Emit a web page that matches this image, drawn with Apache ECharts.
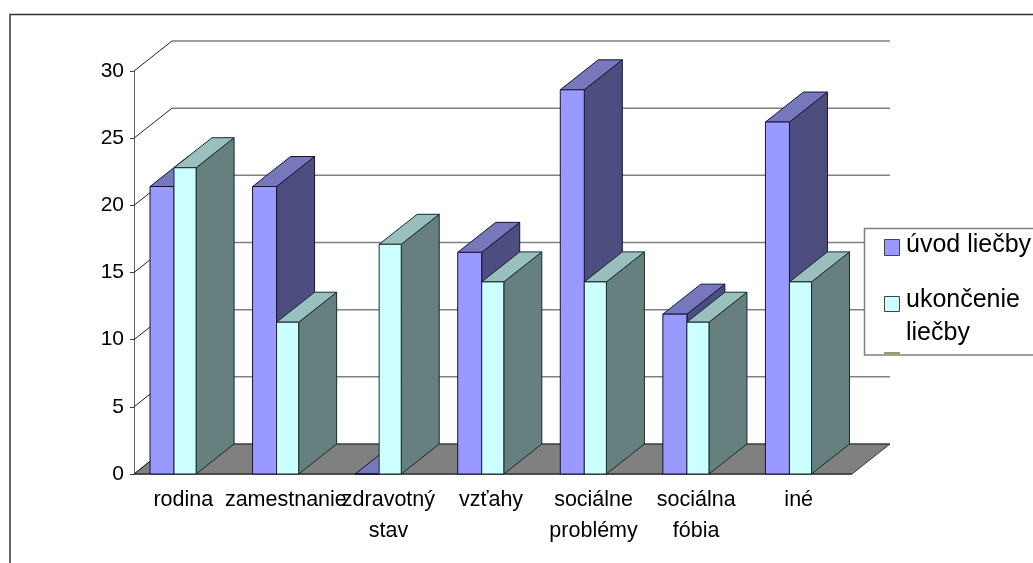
<!DOCTYPE html>
<html>
<head>
<meta charset="utf-8">
<style>html,body{margin:0;padding:0;background:#fff;overflow:hidden}#chart{width:1033px;height:563px}</style>
<script src="https://cdn.jsdelivr.net/npm/echarts@6/dist/echarts.min.js"></script>
</head>
<body>
<div id="chart"></div>
<script>
// Reasons for therapy, at start and at end of treatment (percent)
const categories = ['rodina', 'zamestnanie', 'zdravotný\nstav', 'vzťahy', 'sociálne\nproblémy', 'sociálna\nfóbia', 'iné'];
const uvodLiecby = [21.4, 21.4, 0, 16.5, 28.6, 11.9, 26.2];
const ukoncenieLiecby = [22.8, 11.3, 17.1, 14.3, 14.3, 11.3, 14.3];
const valueTicks = [0, 5, 10, 15, 20, 25, 30];

// Oblique projection of the box: how far the back wall sits from the front plane
const DX = 38, DY = -30;
const FONT = '"Liberation Sans", Arial, sans-serif';

const BLUE = { front: '#9999FF', top: '#7777BB', side: '#4D4D80', edge: '#14143A' };
const CYAN = { front: '#CCFFFF', top: '#99BFBF', side: '#668080', edge: '#1A2A2A' };

function poly(points, fill, stroke, width) {
  return { type: 'polygon', shape: { points }, style: { fill, stroke, lineWidth: width } };
}

// Floor parallelogram, back-wall rules and left-wall diagonals
function renderWalls(params, api) {
  const v = api.value(0);
  const band = api.size([1, 0])[0];
  const y = api.coord([0, v])[1];
  const x0 = api.coord([0, v])[0] - band / 2;
  const x1 = api.coord([categories.length - 1, v])[0] + band / 2;
  const children = [];
  if (v === 0) {
    children.push(poly([[x0, y], [x0 + DX, y + DY], [x1 + DX, y + DY], [x1, y]], '#808080', '#3C3C3C', 1));
  }
  children.push({ type: 'line', shape: { x1: x0 + DX, y1: y + DY, x2: x1 + DX, y2: y + DY },
    style: { stroke: v === 0 ? '#3C3C3C' : '#808080', lineWidth: v === 0 ? 1 : 1.5 } });
  children.push({ type: 'line', shape: { x1: x0, y1: y, x2: x0 + DX, y2: y + DY },
    style: { stroke: '#222222', lineWidth: 1 } });
  if (v === 0) {
    children.push({ type: 'line', shape: { x1: x0, y1: y, x2: x1, y2: y }, style: { stroke: '#3C3C3C', lineWidth: 1.5 } });
  }
  return { type: 'group', children };
}

// One three-faced bar; offset and width are fractions of the category band
function barRenderer(offset, width, palette) {
  return function (params, api) {
    const i = api.value(0);
    const base = api.coord([i, 0]);
    const top = api.coord([i, api.value(1)]);
    const band = api.size([1, 0])[0];
    const l = base[0] - band / 2 + band * offset;
    const r = l + band * width;
    const yt = top[1], yb = base[1];
    return {
      type: 'group',
      children: [
        poly([[r, yb], [r + DX, yb + DY], [r + DX, yt + DY], [r, yt]], palette.side, palette.edge, 1),
        poly([[l, yt], [l + DX, yt + DY], [r + DX, yt + DY], [r, yt]], palette.top, palette.edge, 1),
        poly([[l, yb], [l, yt], [r, yt], [r, yb]], palette.front, palette.edge, 1)
      ]
    };
  };
}

const legendNames = ['úvod liečby', 'ukončenie\nliečby'];

const chart = echarts.init(document.getElementById('chart'), null, { renderer: 'canvas' });
chart.setOption({
  animation: false,
  backgroundColor: '#fff',
  grid: { left: 134, top: 71, width: 718, height: 403, containLabel: false },
  xAxis: {
    type: 'category', data: categories,
    axisLine: { show: false }, axisTick: { show: false }, splitLine: { show: false },
    axisLabel: { interval: 0, hideOverlap: false, margin: 11, padding: [0, 4, 0, 0], color: '#000', fontFamily: FONT, fontSize: 21.5, lineHeight: 30.5 }
  },
  yAxis: {
    type: 'value', min: 0, max: 30, interval: 5,
    splitLine: { show: false },
    axisLine: { show: true, lineStyle: { color: '#606060', width: 1 } },
    axisTick: { show: true, length: 4, lineStyle: { color: '#404040', width: 1 } },
    axisLabel: { margin: 10, padding: [3, 0, 0, 0], color: '#000', fontFamily: FONT, fontSize: 21 }
  },
  series: [
    { type: 'custom', name: 'steny', coordinateSystem: 'cartesian2d', renderItem: renderWalls,
      data: valueTicks.map(v => [v]), encode: { y: 0 }, silent: true, z: 1, clip: false },
    { type: 'custom', name: 'úvod liečby', coordinateSystem: 'cartesian2d', renderItem: barRenderer(0.156, 0.234, BLUE),
      data: uvodLiecby.map((v, i) => [i, v]), encode: { x: 0, y: 1 }, z: 2, clip: false },
    { type: 'custom', name: 'ukončenie liečby', coordinateSystem: 'cartesian2d', renderItem: barRenderer(0.39, 0.2154, CYAN),
      data: ukoncenieLiecby.map((v, i) => [i, v]), encode: { x: 0, y: 1 }, z: 3, clip: false }
  ],
  graphic: [
    // Outer frame, open toward the window edges
    { type: 'polyline', z: 10, shape: { points: [[10, 563], [10, 14.5], [1033, 14.5]] }, style: { stroke: '#333', lineWidth: 1.5, fill: null } },
    // Legend panel, running past the right edge
    { type: 'rect', z: 10, shape: { x: 864.5, y: 228.5, width: 190, height: 126.5 }, style: { fill: '#fff', stroke: '#808080', lineWidth: 1.5 } },
    { type: 'rect', z: 11, shape: { x: 884.5, y: 239.5, width: 15, height: 16 }, style: { fill: BLUE.front, stroke: '#444', lineWidth: 1 } },
    { type: 'rect', z: 11, shape: { x: 884.5, y: 296.5, width: 15, height: 15 }, style: { fill: CYAN.front, stroke: '#444', lineWidth: 1 } },
    { type: 'rect', z: 11, shape: { x: 884, y: 352, width: 16, height: 2 }, style: { fill: '#99996B' } },
    { type: 'text', z: 11, x: 906, y: 245, style: { text: legendNames[0], fill: '#000', font: '25px ' + FONT, verticalAlign: 'middle' } },
    { type: 'text', z: 11, x: 906, y: 317, style: { text: legendNames[1], fill: '#000', font: '25px ' + FONT, lineHeight: 33, verticalAlign: 'middle' } }
  ]
});
</script>
</body>
</html>
